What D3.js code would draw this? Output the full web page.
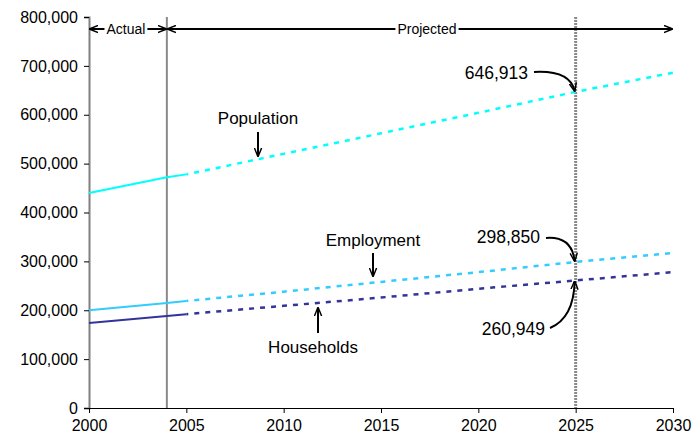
<!DOCTYPE html>
<html><head><meta charset="utf-8">
<script src="https://cdn.jsdelivr.net/npm/d3@7"></script>
<style>body{margin:0;background:#fff}svg{font-family:"Liberation Sans",Arial,sans-serif}</style>
</head><body><svg id="c" width="694" height="441"></svg>
<script>
const years = [2000, 2004, 2005, 2010, 2015, 2020, 2025, 2030];
const population = [440000, 472000, 478000, 520000, 562000, 604000, 646913, 686000];
const employment = [200000, 215000, 219000, 238000, 258000, 278000, 298850, 317000];
const households = [174000, 188000, 192000, 209000, 226000, 244000, 260949, 278000];
const xTicks = [2000, 2005, 2010, 2015, 2020, 2025, 2030];
const yTicks = [0, 100000, 200000, 300000, 400000, 500000, 600000, 700000, 800000];
const actualEnd = 2004, projStart = 2005, markYear = 2025;

const svg = d3.select("#c");
const x = d3.scaleLinear().domain([2000, 2030]).range([89, 673]);
const y = d3.scaleLinear().domain([0, 800000]).range([408, 17]);

const defs = svg.append("defs");
defs.append("marker").attr("id","ah").attr("viewBox","0 0 10 10").attr("refX",9).attr("refY",5)
  .attr("markerWidth",9).attr("markerHeight",9).attr("markerUnits","userSpaceOnUse").attr("orient","auto")
  .append("path").attr("d","M0,1 L10,5 L0,9").attr("fill","none").attr("stroke","#000").attr("stroke-width",1.6);

// axes
const fmt = d3.format(",");
const yAx = svg.append("g").attr("transform","translate(89,0)")
  .call(d3.axisLeft(y).tickValues(yTicks).tickSize(5).tickFormat(d=>fmt(d)));
const xAx = svg.append("g").attr("transform","translate(0,408)")
  .call(d3.axisBottom(x).tickValues(xTicks).tickSize(5).tickFormat(d3.format("d")));
[yAx,xAx].forEach(g=>{g.select(".domain").attr("stroke","#000").attr("stroke-width",1);
  g.selectAll(".tick line").attr("stroke","#000");
  g.selectAll("text").attr("font-size",16).attr("fill","#000").attr("font-family","Liberation Sans, Arial, sans-serif");});
yAx.selectAll("text").attr("dx",-3);
xAx.selectAll("text").attr("dy",15);
yAx.select(".domain").attr("stroke","#808080").attr("stroke-width",2);

// vertical lines
svg.append("line").attr("x1",x(actualEnd)).attr("x2",x(actualEnd)).attr("y1",y(800000)).attr("y2",y(0))
  .attr("stroke","#8a8a8a").attr("stroke-width",2);
svg.append("line").attr("x1",x(markYear)).attr("x2",x(markYear)).attr("y1",y(800000)).attr("y2",y(0))
  .attr("stroke","#8a8a8a").attr("stroke-width",3).attr("stroke-dasharray","2,1");

// series
const series = [
  {v: population, c: "#00FFFF"},
  {v: employment, c: "#33CCFF"},
  {v: households, c: "#333399"}
];
const line = d3.line().x(d=>x(d[0])).y(d=>y(d[1]));
series.forEach(s=>{
  const pts = years.map((yr,i)=>[yr,s.v[i]]);
  svg.append("path").attr("d",line(pts.filter(p=>p[0]<=projStart))).attr("fill","none")
    .attr("stroke",s.c).attr("stroke-width",2);
  svg.append("path").attr("d",line(pts.filter(p=>p[0]>=projStart))).attr("fill","none")
    .attr("stroke",s.c).attr("stroke-width",2.5).attr("stroke-dasharray","5,6").attr("stroke-dashoffset",-8);
});

function arrow(x1,y1,x2,y2){svg.append("line").attr("x1",x1).attr("y1",y1).attr("x2",x2).attr("y2",y2)
  .attr("stroke","#000").attr("stroke-width",2).attr("marker-end","url(#ah)");}
function label(t,xx,yy,size,anchor){return svg.append("text").attr("x",xx).attr("y",yy).attr("font-size",size)
  .attr("text-anchor",anchor||"middle").attr("fill","#000").text(t);}

// top arrows
const ty = 29;
const ax0 = x(2000), ax1 = x(actualEnd), ax2 = x(2030);
function spanLabel(t, a, b, cx){
  const tx = label(t, cx, ty+5, 14);
  const w = tx.node().getComputedTextLength();
  arrow(cx - w/2 - 2, ty, a + 1, ty);
  arrow(cx + w/2 + 2, ty, b - 1, ty);
}
spanLabel("Actual", ax0, ax1, (ax0+ax1)/2 - 2);
spanLabel("Projected", ax1, ax2, 427);

// annotations
label("Population", 258, 124, 17);
arrow(258, 132, 258, 156);
label("Employment", 373, 246, 17);
arrow(373, 253, 373, 276);
label("Households", 313, 353, 17);
arrow(318, 333, 318, 308);

function curve(x1,y1,cx,cy,x2,y2){svg.append("path").attr("d",`M${x1},${y1} Q${cx},${cy} ${x2},${y2}`)
  .attr("fill","none").attr("stroke","#000").attr("stroke-width",2).attr("marker-end","url(#ah)");}
const mx = x(markYear);
label(fmt(population[6]), 528, 79, 17.5, "end");
curve(534, 72, mx-6, 70, mx-1, y(population[6])-1);
label(fmt(employment[6]), 540, 243, 17.5, "end");
curve(546, 238, mx-4, 236, mx-1, y(employment[6])-1);
label(fmt(households[6]), 545, 335, 17.5, "end");
curve(550, 328, mx-2, 318, mx-1, y(households[6])+1);
</script></body></html>
